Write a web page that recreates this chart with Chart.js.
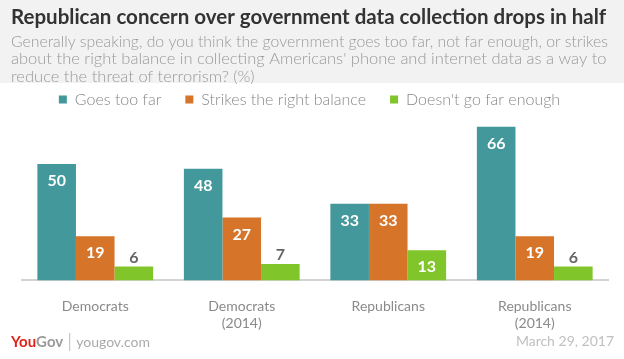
<!DOCTYPE html>
<html lang="en">
<head>
    <meta charset="UTF-8">
    <title>Republican concern over government data collection</title>
    <script src="https://cdn.jsdelivr.net/npm/chart.js"></script>
    <style>
        html, body { margin: 0; padding: 0; background: #fff; }
        #wrap { position: relative; width: 624px; height: 359px; }
    </style>
</head>
<body>
    <div id="wrap"><canvas id="dataChart" width="624" height="359"></canvas></div>

    <script>
        // Chart data
        var groups = [['Democrats'], ['Democrats', '(2014)'], ['Republicans'], ['Republicans', '(2014)']];
        var seriesNames = ['Goes too far', 'Strikes the right balance', "Doesn't go far enough"];
        var goesTooFar = [50, 48, 33, 66];
        var rightBalance = [19, 27, 33, 19];
        var notFarEnough = [6, 7, 13, 6];
        var seriesColors = ['#43989b', '#d6752a', '#80c52a'];

        var titleText = 'Republican concern over government data collection drops in half';
        var subtitleLines = [
            'Generally speaking, do you think the government goes too far, not far enough, or strikes',
            "about the right balance in collecting Americans' phone and internet data as a way to",
            'reduce the threat of terrorism? (%)'
        ];

        // grey band behind the heading
        var headerBand = {
            id: 'headerBand',
            beforeDraw: function(chart) {
                var ctx = chart.ctx;
                ctx.save();
                ctx.fillStyle = '#f2f2f2';
                ctx.fillRect(0, 0, chart.width, 83);
                ctx.restore();
            }
        };

        // value labels on the bars
        var barValues = {
            id: 'barValues',
            afterDatasetsDraw: function(chart) {
                var ctx = chart.ctx;
                ctx.save();
                ctx.font = 'bold 16px Lato';
                ctx.textAlign = 'center';
                ctx.textBaseline = 'middle';
                chart.data.datasets.forEach(function(ds, i) {
                    chart.getDatasetMeta(i).data.forEach(function(bar, j) {
                        var v = ds.data[j];
                        if (v >= 10) {
                            ctx.fillStyle = '#ffffff';
                            ctx.fillText(v, bar.x, bar.y + 17);
                        } else {
                            ctx.fillStyle = '#666666';
                            ctx.fillText(v, bar.x, bar.y - 9);
                        }
                    });
                });
                ctx.restore();
            }
        };

        // YouGov footer
        var footer = {
            id: 'footer',
            afterDraw: function(chart) {
                var ctx = chart.ctx;
                ctx.save();
                ctx.textBaseline = 'alphabetic';
                ctx.font = 'bold 15px Lato';
                ctx.fillStyle = '#e0221b';
                ctx.fillText('You', 11, 347);
                var w = ctx.measureText('You').width;
                ctx.fillStyle = '#9a9a9a';
                ctx.fillText('Gov', 11 + w, 347);
                var w2 = ctx.measureText('Gov').width;
                ctx.strokeStyle = '#bbbbbb';
                ctx.lineWidth = 1;
                ctx.beginPath();
                ctx.moveTo(15 + w + w2 + 2.5, 333);
                ctx.lineTo(15 + w + w2 + 2.5, 351);
                ctx.stroke();
                ctx.font = '14px Lato';
                ctx.fillStyle = '#aaaaaa';
                ctx.fillText('yougov.com', 24 + w + w2, 347);
                ctx.textAlign = 'right';
                ctx.fillStyle = '#c0c0c0';
                ctx.fillText('March 29, 2017', 614, 346);
                ctx.restore();
            }
        };

        var chart = new Chart(document.getElementById('dataChart'), {
            type: 'bar',
            data: {
                labels: groups,
                datasets: [
                    { label: seriesNames[0], data: goesTooFar, backgroundColor: seriesColors[0] },
                    { label: seriesNames[1], data: rightBalance, backgroundColor: seriesColors[1] },
                    { label: seriesNames[2], data: notFarEnough, backgroundColor: seriesColors[2] }
                ]
            },
            options: {
                responsive: false,
                animation: false,
                layout: { padding: { left: 11, right: 16, top: 0, bottom: 17 } },
                datasets: {
                    bar: { categoryPercentage: 0.79, barPercentage: 1.0, borderWidth: 0 }
                },
                plugins: {
                    title: {
                        display: true,
                        text: titleText,
                        align: 'start',
                        color: '#333333',
                        font: { family: 'Lato', size: 20.5, weight: 'bold' },
                        padding: { top: 5, bottom: 1 }
                    },
                    subtitle: {
                        display: true,
                        text: subtitleLines,
                        align: 'start',
                        color: '#999999',
                        font: { family: 'Lato', size: 16.5, weight: '300', lineHeight: 1.07 },
                        padding: { top: 2, bottom: -18 }
                    },
                    legend: {
                        display: true,
                        position: 'top',
                        labels: {
                            boxWidth: 8,
                            boxHeight: 8,
                            padding: 24,
                            color: '#888888',
                            font: { family: 'Lato', size: 16, weight: '300' }
                        }
                    },
                    tooltip: { enabled: false }
                },
                scales: {
                    x: {
                        grid: { display: false },
                        border: { display: true, color: '#d3d3d3', width: 2 },
                        ticks: {
                            color: '#8a8a8a',
                            padding: 10,
                            font: { family: 'Lato', size: 14 }
                        }
                    },
                    y: {
                        min: 0,
                        max: 70,
                        display: true,
                        grid: { display: false },
                        border: { display: false },
                        ticks: { display: false },
                        afterFit: function(axis) { axis.width = 11; }
                    }
                }
            },
            plugins: [headerBand, barValues, footer]
        });
    </script>
</body>
</html>
